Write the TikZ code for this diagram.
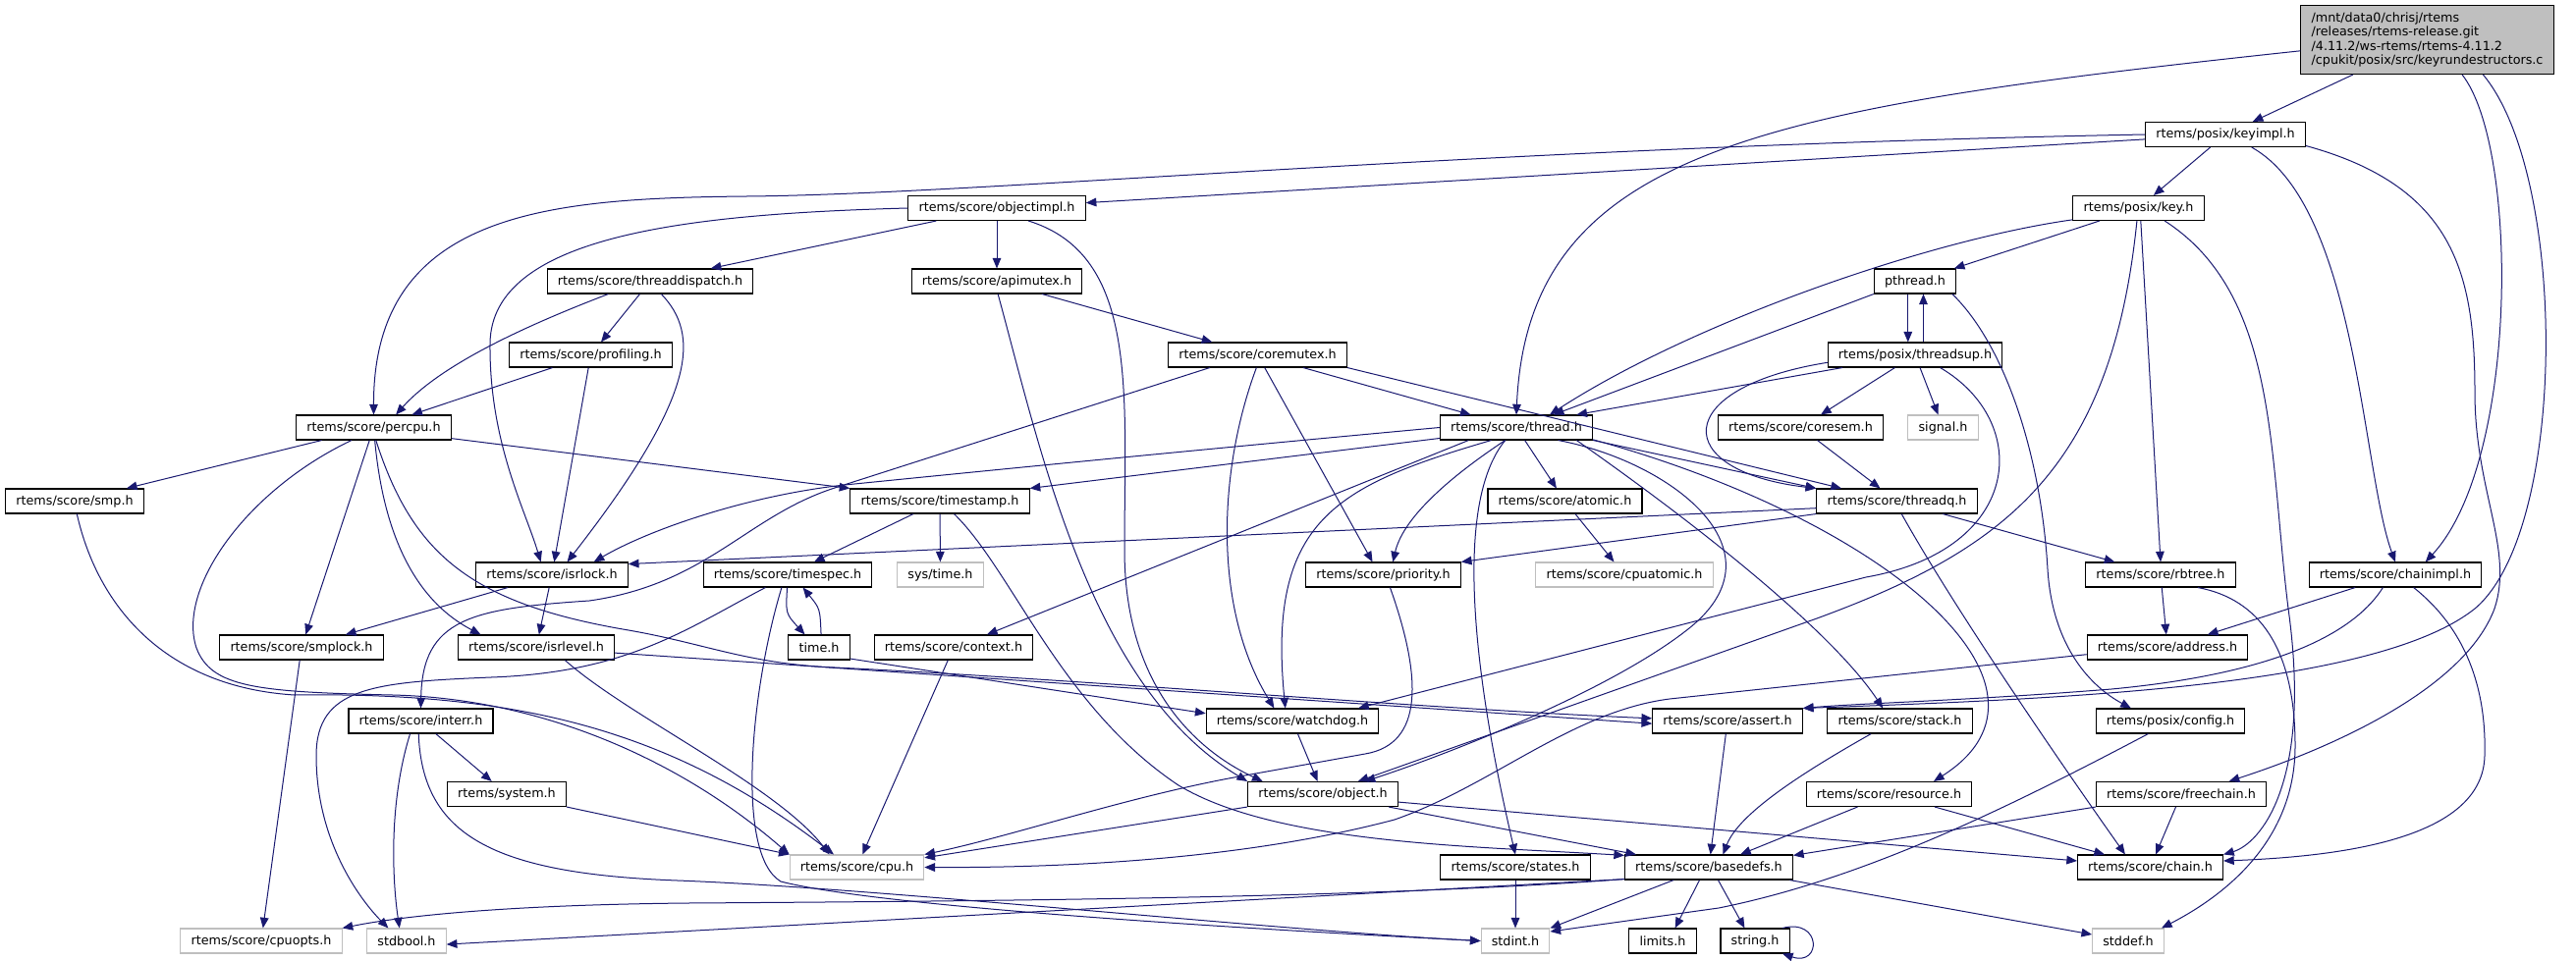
\documentclass[tikz,border=0pt]{standalone}
\usepackage{fontspec}
\setmainfont{DejaVu Sans}
\usepackage{xcolor}
\usepackage{tikz}
\usetikzlibrary{arrows.meta}
\definecolor{edgeblue}{RGB}{25,25,112}
\definecolor{sysgray}{RGB}{191,191,191}
\tikzset{
	hdr/.style={draw=black, line width=0.8pt, fill=white, inner xsep=8pt, inner ysep=0pt, minimum height=18.75pt, font=\fontsize{9.56pt}{10.9pt}\selectfont},
	syshdr/.style={hdr, draw=sysgray},
	srcfile/.style={hdr, fill=sysgray, align=left, inner ysep=4pt, minimum height=52.5pt},
	inc/.style={draw=edgeblue, line width=0.75pt, -{Triangle[length=8pt,width=6.5pt]}}
}

\begin{document}
\begin{tikzpicture}[x=0.75pt, y=-0.75pt]
		\useasboundingbox (0,0) rectangle (2623,978);
		\node [srcfile] (root) at (2471.5,40.5) {/mnt/data0/chrisj/rtems\\/releases/rtems-release.git\\/4.11.2/ws-rtems/rtems-4.11.2\\/cpukit/posix/src/keyrundestructors.c};
		\node [hdr] (keyimpl) at (2266,137) {rtems/posix/keyimpl.h};
		\node [hdr] (objimpl) at (1015,212) {rtems/score/objectimpl.h};
		\node [hdr] (key) at (2177.5,212) {rtems/posix/key.h};
		\node [hdr] (thrdisp) at (662,286.5) {rtems/score/threaddispatch.h};
		\node [hdr] (apimutex) at (1015,286.5) {rtems/score/apimutex.h};
		\node [hdr] (pthread) at (1950,286.5) {pthread.h};
		\node [hdr] (profiling) at (601.5,361.5) {rtems/score/profiling.h};
		\node [hdr] (coremutex) at (1280.5,361.5) {rtems/score/coremutex.h};
		\node [hdr] (threadsup) at (1950,361.5) {rtems/posix/threadsup.h};
		\node [hdr] (percpu) at (380.5,435.5) {rtems/score/percpu.h};
		\node [hdr] (thread) at (1544,435.5) {rtems/score/thread.h};
		\node [hdr] (coresem) at (1833.5,435.5) {rtems/score/coresem.h};
		\node [syshdr] (signal) at (1978.5,435.5) {signal.h};
		\node [hdr] (smp) at (76,510.5) {rtems/score/smp.h};
		\node [hdr] (timestamp) at (957,510.5) {rtems/score/timestamp.h};
		\node [hdr] (atomic) at (1593.5,510.5) {rtems/score/atomic.h};
		\node [hdr] (threadq) at (1931.5,510.5) {rtems/score/threadq.h};
		\node [hdr] (isrlock) at (562,585.5) {rtems/score/isrlock.h};
		\node [hdr] (timespec) at (802,585.5) {rtems/score/timespec.h};
		\node [syshdr] (systime) at (957.5,585.5) {sys/time.h};
		\node [hdr] (priority) at (1408.5,585.5) {rtems/score/priority.h};
		\node [syshdr] (cpuatomic) at (1654,585.5) {rtems/score/cpuatomic.h};
		\node [hdr] (rbtree) at (2200,585.5) {rtems/score/rbtree.h};
		\node [hdr] (chainimpl) at (2439,585.5) {rtems/score/chainimpl.h};
		\node [hdr] (smplock) at (307,659.5) {rtems/score/smplock.h};
		\node [hdr] (isrlevel) at (546,659.5) {rtems/score/isrlevel.h};
		\node [hdr] (timeh) at (834,659.5) {time.h};
		\node [hdr] (context) at (971,659.5) {rtems/score/context.h};
		\node [hdr] (address) at (2207,659.5) {rtems/score/address.h};
		\node [hdr] (interr) at (428.5,734.5) {rtems/score/interr.h};
		\node [hdr] (watchdog) at (1316,734.5) {rtems/score/watchdog.h};
		\node [hdr] (assert) at (1759,734.5) {rtems/score/assert.h};
		\node [hdr] (stack) at (1934.5,734.5) {rtems/score/stack.h};
		\node [hdr] (config) at (2210,734.5) {rtems/posix/config.h};
		\node [hdr] (system) at (516,809) {rtems/system.h};
		\node [hdr] (object) at (1347,809) {rtems/score/object.h};
		\node [hdr] (resource) at (1923.5,809) {rtems/score/resource.h};
		\node [hdr] (freechain) at (2221,809) {rtems/score/freechain.h};
		\node [syshdr] (cpu) at (872.5,883.5) {rtems/score/cpu.h};
		\node [hdr] (states) at (1543,883.5) {rtems/score/states.h};
		\node [hdr] (basedefs) at (1740,883.5) {rtems/score/basedefs.h};
		\node [hdr] (chain) at (2189.5,883.5) {rtems/score/chain.h};
		\node [syshdr] (cpuopts) at (266,958.5) {rtems/score/cpuopts.h};
		\node [syshdr] (stdbool) at (414,958.5) {stdbool.h};
		\node [syshdr] (stdint) at (1543,958.5) {stdint.h};
		\node [hdr] (limits) at (1693,958.5) {limits.h};
		\node [hdr] (stringh) at (1787,958.5) {string.h};
		\node [syshdr] (stddef) at (2167,958.5) {stddef.h};

		\draw [inc] (root) -- (keyimpl);
		\draw [inc] (root.185) .. controls (1800,110) and (1556,150) .. (thread.north);
		\draw [inc] (root.-45) .. controls (2565,150) and (2565,470) .. (chainimpl.23);
		\draw [inc] (root.-32) .. controls (2615,180) and (2615,540) .. (2520,620) .. controls (2420,700) and (2100,712) .. (assert.north east);
		\draw [inc] (keyimpl) -- (key);
		\draw [inc] (keyimpl) -- (objimpl);
		\draw [inc] (keyimpl.west) .. controls (1500,150) and (1000,198) .. (760,200) .. controls (560,202) and (380,215) .. (percpu.north);
		\draw [inc] (keyimpl.-26) .. controls (2400,210) and (2405,480) .. (chainimpl.north);
		\draw [inc] (keyimpl.-8) .. controls (2500,190) and (2520,280) .. (2520,400) .. controls (2520,500) and (2560,560) .. (2540,620) .. controls (2510,700) and (2380,760) .. (freechain.15);
		\draw [inc] (key.190) .. controls (1960,245) and (1720,330) .. (thread.21);
		\draw [inc] (key) -- (pthread);
		\draw [inc] (key.-97) .. controls (2150,480) and (2040,560) .. (1850,630) -- (object.20);
		\draw [inc] (key.-80) -- (rbtree.north);
		\draw [inc] (key.-26) .. controls (2320,300) and (2310,460) .. (2330,620) .. controls (2355,800) and (2300,860) .. (chain.north east);
		\draw [inc] (pthread.south west) -- (thread.19);
		\draw [inc] (pthread.-119) -- (threadsup.119);
		\draw [inc] (threadsup.57) -- (pthread.-57);
		\draw [inc] (pthread.-19) .. controls (2040,350) and (2078,460) .. (2085,580) .. controls (2090,660) and (2130,700) .. (config.162);
		\draw [inc] (threadsup.190) -- (thread.12);
		\draw [inc] (threadsup.185) .. controls (1700,395) and (1700,480) .. (threadq.171);
		\draw [inc] (threadsup) -- (coresem);
		\draw [inc] (threadsup) -- (signal);
		\draw [inc] (threadsup.-27) .. controls (2070,430) and (2060,560) .. (1900,588) -- (watchdog.11);
		\draw [inc] (coresem) -- (threadq);
		\draw [inc] (coremutex) -- (thread);
		\draw [inc] (coremutex.south east) -- (threadq.167);
		\draw [inc] (coremutex) -- (priority.130);
		\draw [inc] (coremutex.-95) .. controls (1240,480) and (1235,620) .. (watchdog.145);
		\draw [inc] (coremutex.-165) -- (850,497) .. controls (760,526) and (720,595) .. (600,612) .. controls (480,620) and (430,630) .. (interr.north);
		\draw [inc] (apimutex) -- (coremutex);
		\draw [inc] (apimutex.-85) .. controls (1060,460) and (1110,700) .. (object.north west);
		\draw [inc] (objimpl) -- (thrdisp);
		\draw [inc] (objimpl) -- (apimutex);
		\draw [inc] (objimpl.west) .. controls (700,218) and (500,240) .. (499,350) .. controls (498,450) and (535,520) .. (isrlock.131);
		\draw [inc] (objimpl.-22) .. controls (1160,260) and (1145,400) .. (1145,560) .. controls (1145,710) and (1230,770) .. (object.168);
		\draw [inc] (thrdisp.-163) .. controls (540,330) and (450,370) .. (percpu.30);
		\draw [inc] (thrdisp) -- (profiling);
		\draw [inc] (thrdisp.-49) .. controls (712,340) and (712,400) .. (isrlock.40);
		\draw [inc] (profiling) -- (percpu);
		\draw [inc] (profiling) -- (isrlock);
		\draw [inc] (percpu) -- (smp);
		\draw [inc] (percpu) -- (smplock);
		\draw [inc] (percpu.-150) .. controls (250,500) and (180,600) .. (200,660) .. controls (215,700) and (260,705) .. (400,708) .. controls (560,712) and (700,780) .. (cpu.north west);
		\draw [inc] (percpu.-85) .. controls (390,540) and (420,610) .. (isrlevel.167);
		\draw [inc] (percpu.-80) .. controls (420,565) and (480,615) .. (640,642) .. controls (720,656) and (760,676) .. (850,680) .. controls (1100,692) and (1450,722) .. (assert.178);
		\draw [inc] (percpu.-8) -- (timestamp.north west);
		\draw [inc] (smp.-80) .. controls (100,620) and (170,700) .. (300,708) .. controls (520,705) and (680,740) .. (cpu.151);
		\draw [inc] (isrlock) -- (smplock);
		\draw [inc] (isrlock) -- (isrlevel);
		\draw [inc] (smplock) -- (cpuopts);
		\draw [inc] (isrlevel.-24) .. controls (640,730) and (790,800) .. (cpu.155);
		\draw [inc] (isrlevel.-4) -- (assert.182);
		\draw [inc] (timestamp) -- (timespec);
		\draw [inc] (timestamp) -- (systime);
		\draw [inc] (timestamp.-42) .. controls (1030,580) and (1080,720) .. (1200,800) .. controls (1300,860) and (1500,862) .. (basedefs.172);
		\draw [inc] (timespec.-92) .. controls (800,625) .. (timeh.138);
		\draw [inc] (timeh.81) .. controls (835,620) .. (timespec.-40);
		\draw [inc] (timespec.-150) .. controls (700,640) and (640,685) .. (500,690) .. controls (380,695) and (322,700) .. (322,770) .. controls (322,860) and (370,920) .. (stdbool.145);
		\draw [inc] (timespec.-115) .. controls (765,700) and (748,870) .. (795,898) .. controls (900,925) and (1300,948) .. (stdint.west);
		\draw [inc] (timeh.-20) -- (watchdog.175);
		\draw [inc] (context) -- (cpu);
		\draw [inc] (interr) -- (system);
		\draw [inc] (interr.-130) .. controls (395,820) and (400,900) .. (stdbool.119);
		\draw [inc] (interr.-100) .. controls (430,850) and (500,890) .. (690,897) .. controls (900,905) and (1300,948) .. (stdint.west);
		\draw [inc] (system.south east) -- (cpu.north west);
		\draw [inc] (watchdog) -- (object);
		\draw [inc] (object.south west) -- (cpu.8);
		\draw [inc] (object.-11) -- (basedefs.170);
		\draw [inc] (object.-6) -- (chain.175);
		\draw [inc] (assert) -- (basedefs);
		\draw [inc] (stack.-156) .. controls (1830,790) and (1770,830) .. (basedefs.42);
		\draw [inc] (address.185) -- (1700,712) .. controls (1600,725) and (1520,800) .. (1420,835) .. controls (1250,880) and (1050,884) .. (cpu.east);
		\draw [inc] (rbtree) -- (address);
		\draw [inc] (chainimpl) -- (address);
		\draw [inc] (rbtree.-19) .. controls (2300,610) and (2337,660) .. (2337,760) .. controls (2337,860) and (2260,915) .. (stddef.21);
		\draw [inc] (resource) -- (basedefs);
		\draw [inc] (resource) -- (chain);
		\draw [inc] (freechain.south west) -- (basedefs.8);
		\draw [inc] (freechain) -- (chain);
		\draw [inc] (chainimpl.-134) .. controls (2400,640) and (2330,685) .. (2150,702) .. controls (2000,714) and (1900,716) .. (assert.north east);
		\draw [inc] (chainimpl.-35) .. controls (2510,640) and (2532,700) .. (2530,770) .. controls (2528,850) and (2400,872) .. (chain.5);
		\draw [inc] (config.-150) .. controls (2050,820) and (1900,895) .. (1750,925) -- (stdint.15);
		\draw [inc] (threadq.185) -- (isrlock.8);
		\draw [inc] (threadq.south west) -- (priority.north east);
		\draw [inc] (threadq.-70) .. controls (1990,620) and (2100,780) .. (chain.153);
		\draw [inc] (threadq) -- (rbtree);
		\draw [inc] (thread.west) .. controls (1200,460) and (1000,480) .. (860,494) .. controls (760,505) and (660,540) .. (isrlock.17);
		\draw [inc] (thread.188) -- (timestamp.north east);
		\draw [inc] (thread.-165) -- (context.21);
		\draw [inc] (thread.-153) .. controls (1360,495) and (1290,530) .. (watchdog.119);
		\draw [inc] (thread.-131) .. controls (1470,490) and (1428,530) .. (priority.53);
		\draw [inc] (thread.-131) .. controls (1470,525) and (1515,750) .. (states.north);
		\draw [inc] (thread) -- (atomic);
		\draw [inc] (thread.-17) .. controls (1700,470) and (1820,560) .. (1720,640) .. controls (1640,704) and (1470,770) .. (object.17);
		\draw [inc] (thread.-12) .. controls (1750,550) and (1870,650) .. (stack.143);
		\draw [inc] (thread.-9) .. controls (1920,530) and (2120,700) .. (resource.16);
		\draw [inc] (thread.south east) -- (threadq.171);
		\draw [inc] (priority.-62) .. controls (1448,690) and (1450,758) .. (1390,768) -- (1262,791) .. controls (1150,811) and (1030,852) .. (cpu.north east);
		\draw [inc] (atomic) -- (cpuatomic);
		\draw [inc] (states) -- (stdint);
		\draw [inc] (basedefs.188) .. controls (1400,915) and (1000,918) .. (700,920) .. controls (500,922) and (400,935) .. (cpuopts.north east);
		\draw [inc] (basedefs.188) -- (stdbool.-5);
		\draw [inc] (basedefs.-160) -- (stdint.north east);
		\draw [inc] (basedefs.-126) -- (limits.46);
		\draw [inc] (basedefs.-54) -- (stringh.129);
		\draw [inc] (basedefs.-9.5) -- (stddef.170);
		\draw [inc] (stringh.25) .. controls (1855,935) and (1855,985) .. (stringh.-25);
	\end{tikzpicture}
\end{document}
